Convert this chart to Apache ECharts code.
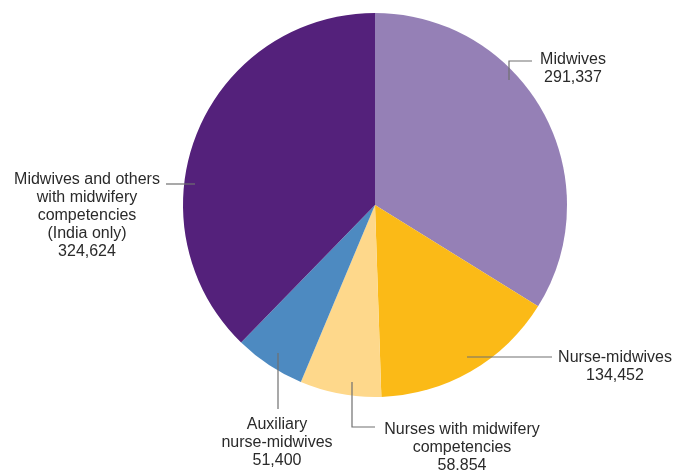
<!DOCTYPE html>
<html>
<head>
<meta charset="utf-8">
<script src="https://cdn.jsdelivr.net/npm/echarts@6/dist/echarts.min.js"></script>
<style>html,body{margin:0;padding:0;background:#fff}#c{width:674px;height:470px}</style>
</head>
<body>
<div id="c"></div>
<script>
var categories = [
  'Midwives',
  'Nurse-midwives',
  'Nurses with midwifery\ncompetencies',
  'Auxiliary\nnurse-midwives',
  'Midwives and others\nwith midwifery\ncompetencies\n(India only)'
];
var values = [291337, 134452, 58854, 51400, 324624];
var colors = ['#9580B6', '#FBBA17', '#FED88B', '#4D8AC1', '#54217B'];

// label placement (pixel layout, not data)
var CX = 375, CY = 205, R = 192;
var labelCfg = [
  { x: 573, y: 69, line: [[509, 80], [509, 61], [532, 61]] },
  { x: 615, y: 367, line: [[467, 357], [510, 357], [552, 357]] },
  { x: 462, y: 448, line: [[352, 382], [352, 427], [375, 427]] },
  { x: 277, y: 443, line: [[278, 353], [278, 380], [278, 409]] },
  { x: 87, y: 216, line: [[195, 184], [180, 184], [166, 184]] }
];

var baseSeries = {
  type: 'pie',
  center: [CX, CY],
  radius: [0, R],
  startAngle: 90,
  clockwise: true,
  avoidLabelOverlap: false,
  emphasis: { disabled: true },
  silent: true
};

var chart = echarts.init(document.getElementById('c'));
chart.setOption({
  animation: false,
  series: [
    Object.assign({}, baseSeries, {
      z: 1,
      itemStyle: { borderWidth: 0 },
      label: { show: false },
      labelLine: { show: false },
      data: categories.map(function (n, i) {
        return { name: n, value: values[i], itemStyle: { color: colors[i] } };
      })
    }),
    Object.assign({}, baseSeries, {
      z: 5,
      itemStyle: { color: 'rgba(0,0,0,0)', borderWidth: 0 },
      data: categories.map(function (n, i) {
        return { name: n, value: values[i] };
      }),
      label: {
        show: true,
        position: 'outside',
        color: '#2a2a2a',
        fontFamily: 'Liberation Sans, Arial, sans-serif',
        fontSize: 16,
        lineHeight: 18,
        align: 'center',
        formatter: function (p) {
          return p.name + '\n' + p.value.toLocaleString('en-US');
        }
      },
      labelLine: {
        show: true,
        showAbove: true,
        lineStyle: { color: '#707070', width: 1.2 }
      },
      labelLayout: function (p) {
        var c = labelCfg[p.dataIndex];
        return {
          x: c.x,
          y: c.y,
          align: 'center',
          verticalAlign: 'middle',
          labelLinePoints: c.line
        };
      }
    })
  ]
});
</script>
</body>
</html>
